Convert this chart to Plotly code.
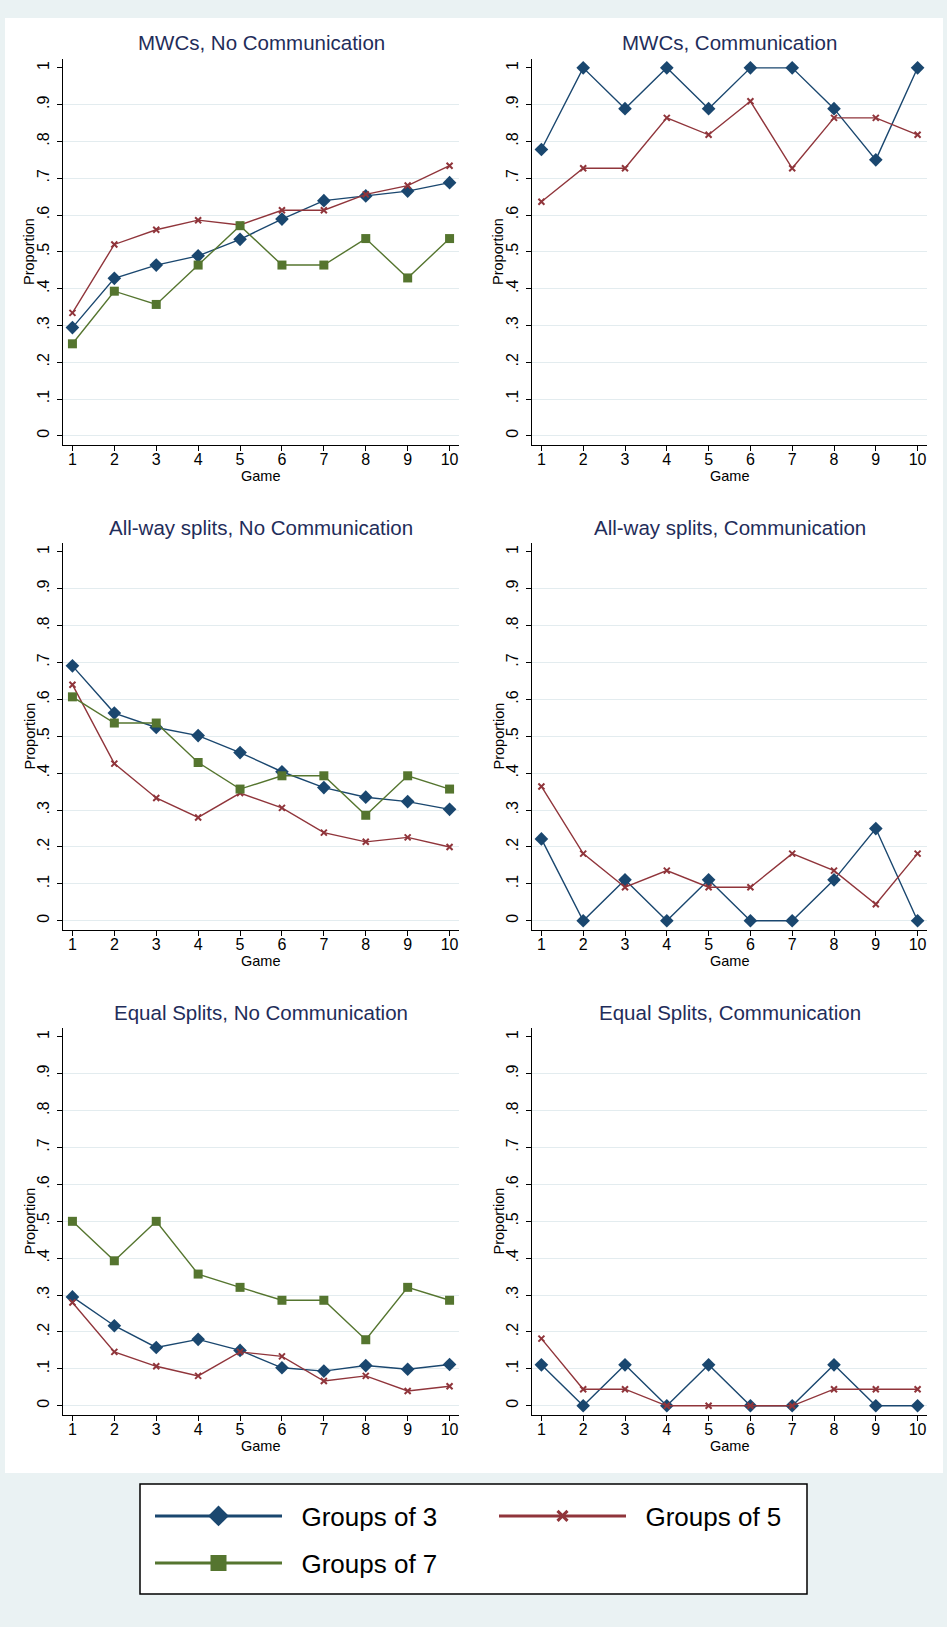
import plotly.graph_objects as go

# ---------------- data ----------------
games = [1, 2, 3, 4, 5, 6, 7, 8, 9, 10]
series_names = ["Groups of 3", "Groups of 5", "Groups of 7"]

mwc_nocomm_g3 = [0.294, 0.428, 0.464, 0.489, 0.534, 0.589, 0.639, 0.652, 0.665, 0.688]
mwc_nocomm_g5 = [0.334, 0.520, 0.560, 0.586, 0.573, 0.613, 0.613, 0.656, 0.680, 0.734]
mwc_nocomm_g7 = [0.250, 0.393, 0.357, 0.464, 0.571, 0.464, 0.464, 0.536, 0.429, 0.536]

mwc_comm_g3 = [0.778, 1.0, 0.889, 1.0, 0.889, 1.0, 1.0, 0.889, 0.75, 1.0]
mwc_comm_g5 = [0.636, 0.727, 0.727, 0.864, 0.818, 0.909, 0.727, 0.864, 0.864, 0.818]

allway_nocomm_g3 = [0.691, 0.563, 0.524, 0.502, 0.456, 0.404, 0.361, 0.335, 0.323, 0.302]
allway_nocomm_g5 = [0.640, 0.426, 0.333, 0.280, 0.346, 0.306, 0.239, 0.214, 0.226, 0.200]
allway_nocomm_g7 = [0.607, 0.536, 0.536, 0.429, 0.357, 0.393, 0.393, 0.286, 0.393, 0.357]

allway_comm_g3 = [0.222, 0.0, 0.111, 0.0, 0.111, 0.0, 0.0, 0.111, 0.25, 0.0]
allway_comm_g5 = [0.364, 0.182, 0.091, 0.136, 0.091, 0.091, 0.182, 0.136, 0.045, 0.182]

equal_nocomm_g3 = [0.295, 0.217, 0.158, 0.180, 0.150, 0.103, 0.094, 0.109, 0.099, 0.112]
equal_nocomm_g5 = [0.280, 0.146, 0.107, 0.081, 0.146, 0.134, 0.067, 0.081, 0.040, 0.053]
equal_nocomm_g7 = [0.500, 0.393, 0.500, 0.357, 0.321, 0.286, 0.286, 0.179, 0.321, 0.286]

equal_comm_g3 = [0.111, 0.0, 0.111, 0.0, 0.111, 0.0, 0.0, 0.111, 0.0, 0.0]
equal_comm_g5 = [0.182, 0.045, 0.045, 0.0, 0.0, 0.0, 0.0, 0.045, 0.045, 0.045]

panel_titles = [
    "MWCs, No Communication", "MWCs, Communication",
    "All-way splits, No Communication", "All-way splits, Communication",
    "Equal Splits, No Communication", "Equal Splits, Communication",
]
panel_series = [
    [mwc_nocomm_g3, mwc_nocomm_g5, mwc_nocomm_g7],
    [mwc_comm_g3, mwc_comm_g5, None],
    [allway_nocomm_g3, allway_nocomm_g5, allway_nocomm_g7],
    [allway_comm_g3, allway_comm_g5, None],
    [equal_nocomm_g3, equal_nocomm_g5, equal_nocomm_g7],
    [equal_comm_g3, equal_comm_g5, None],
]
y_tickvals = [0, 0.1, 0.2, 0.3, 0.4, 0.5, 0.6, 0.7, 0.8, 0.9, 1.0]
y_ticktext = ["0", ".1", ".2", ".3", ".4", ".5", ".6", ".7", ".8", ".9", "1"]
grid_vals = [0, 0.1, 0.2, 0.3, 0.4, 0.5, 0.6, 0.7, 0.8, 0.9]

# ---------------- style ----------------
W, H = 947, 1627
FONT = "Liberation Sans, Arial, Helvetica, sans-serif"
colors = ["#1a476f", "#90353b", "#55752f"]
symbols = ["diamond", "x-thin", "square"]
msizes = [10.5, 6, 9]
legend_msizes = [19, 10, 17]
BG = "#eaf2f3"
GRID = "#e3ecef"
TITLE_C = "#1f2d5a"
TICK_SIZE = 16
NB = "\u00a0\u00a0"

def px_x(v):
    return v / W

def px_y(v):
    return 1 - v / H

col_px = [(63, 459), (532, 927)]
row_px = [(59, 445), (543, 930), (1028, 1415)]

fig = go.Figure()
layout = {}
annotations = []

for i, (title, sers) in enumerate(zip(panel_titles, panel_series)):
    r, c = divmod(i, 2)
    ax = "" if i == 0 else str(i + 1)
    x0, x1 = col_px[c]
    y0, y1 = row_px[r]
    layout["xaxis" + ax] = dict(
        domain=[px_x(x0), px_x(x1)], anchor="y" + ax,
        range=[0.775, 10.225], tickvals=games, ticks="outside", ticklen=5,
        tickcolor="black", tickwidth=1, showline=True, linecolor="black",
        linewidth=1.3, showgrid=False, zeroline=False, ticklabelstandoff=-5,
        tickfont=dict(family=FONT, size=TICK_SIZE, color="black"),
    )
    layout["yaxis" + ax] = dict(
        domain=[px_y(y1), px_y(y0)], anchor="x" + ax,
        range=[-0.025, 1.024], tickvals=y_tickvals, ticktext=y_ticktext,
        tickangle=-90, ticks="outside", ticklen=5, tickcolor="black",
        tickwidth=1, showline=True, linecolor="black", linewidth=1.3,
        showgrid=False, zeroline=False, ticklabelstandoff=1,
        tickfont=dict(family=FONT, size=TICK_SIZE, color="black"),
    )
    # overlay axis carrying only the horizontal gridlines (none at 1)
    gax = str(i + 7)
    layout["yaxis" + gax] = dict(
        overlaying="y" + ax, anchor="x" + ax, side="left",
        range=[-0.025, 1.024], tickmode="array", tickvals=grid_vals,
        showticklabels=False, ticks="", showline=False, zeroline=False,
        showgrid=True, gridcolor=GRID, gridwidth=1,
    )
    fig.add_trace(go.Scatter(x=[None], y=[None], xaxis="x" + ax,
                             yaxis="y" + gax, showlegend=False,
                             hoverinfo="skip", mode="lines"))
    annotations.append(dict(
        text=title, xref="paper", yref="paper",
        x=px_x((x0 + x1) / 2), y=px_y(y0 - 16), xanchor="center", yanchor="middle",
        showarrow=False, font=dict(family=FONT, size=20.5, color=TITLE_C),
    ))
    annotations.append(dict(
        text="Game", xref="paper", yref="paper",
        x=px_x((x0 + x1) / 2), y=px_y(y1 + 31), xanchor="center", yanchor="middle",
        showarrow=False, font=dict(family=FONT, size=14.5, color="black"),
    ))
    annotations.append(dict(
        text="Proportion", xref="paper", yref="paper", textangle=-90,
        x=px_x(x0 - 34), y=px_y((y0 + y1) / 2), xanchor="center", yanchor="middle",
        showarrow=False, font=dict(family=FONT, size=14.5, color="black"),
    ))
    for k, vals in enumerate(sers):
        if vals is None:
            continue
        fig.add_trace(go.Scatter(
            x=games, y=vals, mode="lines+markers", name=series_names[k],
            xaxis="x" + ax, yaxis="y" + ax, showlegend=False,
            line=dict(color=colors[k], width=1.4),
            marker=dict(symbol=symbols[k], size=msizes[k], color=colors[k],
                        line=dict(color=colors[k], width=2 if k == 1 else 0)),
        ))

# legend proxies (no data, only legend entries)
legend_ids = ["legend", "legend", "legend2"]
for k in range(3):
    fig.add_trace(go.Scatter(
        x=[None], y=[None], mode="lines+markers", name=NB + series_names[k],
        legend=legend_ids[k], showlegend=True,
        line=dict(color=colors[k], width=3),
        marker=dict(symbol=symbols[k], size=legend_msizes[k], color=colors[k],
                    line=dict(color=colors[k], width=3 if k == 1 else 0)),
    ))

leg_common = dict(
    orientation="h", bgcolor="rgba(0,0,0,0)", borderwidth=0,
    font=dict(family=FONT, size=26, color="black"),
    itemwidth=127, entrywidth=202, xanchor="left", yanchor="middle",
    itemclick=False, itemdoubleclick=False,
)
layout["legend"] = dict(leg_common, x=px_x(150), y=px_y(1516))
layout["legend2"] = dict(leg_common, x=px_x(150), y=px_y(1563))

shapes = [
    dict(type="rect", xref="paper", yref="paper", x0=px_x(5), x1=px_x(943),
         y0=px_y(1473), y1=px_y(18), fillcolor="white", line=dict(width=0),
         layer="below"),
    dict(type="rect", xref="paper", yref="paper", x0=px_x(140), x1=px_x(807),
         y0=px_y(1594), y1=px_y(1484), fillcolor="white",
         line=dict(color="black", width=1.5), layer="below"),
]

fig.update_layout(
    width=W, height=H, margin=dict(l=0, r=0, t=0, b=0),
    paper_bgcolor=BG, plot_bgcolor="rgba(0,0,0,0)",
    annotations=annotations, shapes=shapes, showlegend=True,
    font=dict(family=FONT),
    **layout,
)

fig.write_html("out.html")
